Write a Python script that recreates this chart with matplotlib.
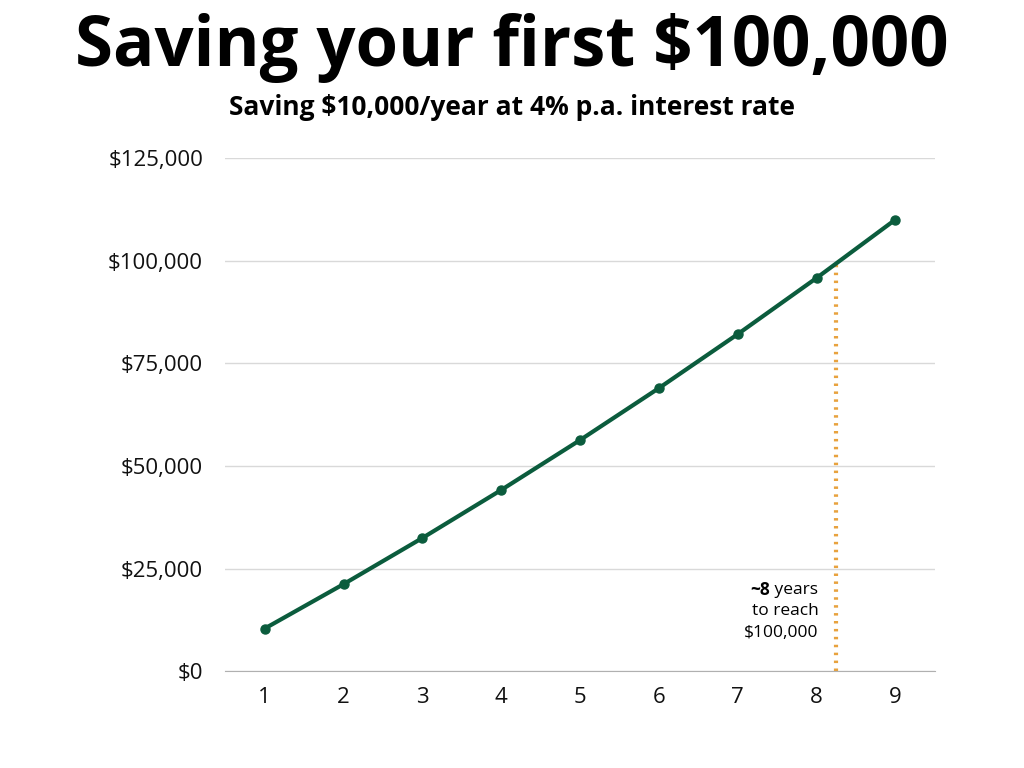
import matplotlib
matplotlib.use("Agg")
import matplotlib.pyplot as plt
from matplotlib.ticker import FuncFormatter

# balance at end of each year
years = [1, 2, 3, 4, 5, 6, 7, 8, 9]
balance = [10400, 21216, 32465, 44163, 56330, 68983, 82142, 95828, 110061]
y_ticks = [0, 25000, 50000, 75000, 100000, 125000]
target = 100000
target_year = 8.24

green = "#0b5c3d"
orange = "#e8a23e"
plt.rcParams['font.family'] = ['Open Sans', 'DejaVu Sans']

fig = plt.figure(figsize=(10.24, 7.68), dpi=100)
ax = fig.add_axes([0.22, 0.126, 0.693, 0.668])

ax.plot(years, balance, color=green, lw=3, marker='o', ms=6.5, zorder=3)
ax.plot([target_year, target_year], [0, target], color=orange, lw=3,
        linestyle=(0, (0.6, 1.3)), zorder=2)

ax.set_xlim(0.5, 9.5)
ax.set_ylim(0, 125000)
ax.set_xticks(years)
ax.set_yticks(y_ticks)
ax.yaxis.set_major_formatter(FuncFormatter(lambda v, p: "${:,.0f}".format(v)))
ax.grid(axis='y', color='#d9d9d9', lw=1)
ax.set_axisbelow(True)
for s in ['top', 'right', 'left']:
    ax.spines[s].set_visible(False)
ax.spines['bottom'].set_color('#b0b0b0')
ax.tick_params(length=0, labelsize=16, colors='#111111')
ax.tick_params(axis='x', pad=11)
ax.tick_params(axis='y', pad=16)

# annotation
ax.text(7.41, 19700, "~8", fontsize=12.5, fontweight='bold', ha='right', va='center')
ax.text(7.41, 19700, " years", fontsize=12.5, ha='left', va='center')
ax.text(7.60, 14600, "to reach", fontsize=12.5, ha='center', va='center')
ax.text(7.55, 9300, "$100,000", fontsize=12.5, ha='center', va='center')

fig.text(0.5, 0.937, "Saving your first $100,000", fontsize=49.5, fontweight='bold',
         ha='center', va='center')
fig.text(0.5, 0.86, "Saving $10,000/year at 4% p.a. interest rate", fontsize=19,
         fontweight='bold', ha='center', va='center')

fig.savefig("out.png", dpi=100, facecolor='white')
